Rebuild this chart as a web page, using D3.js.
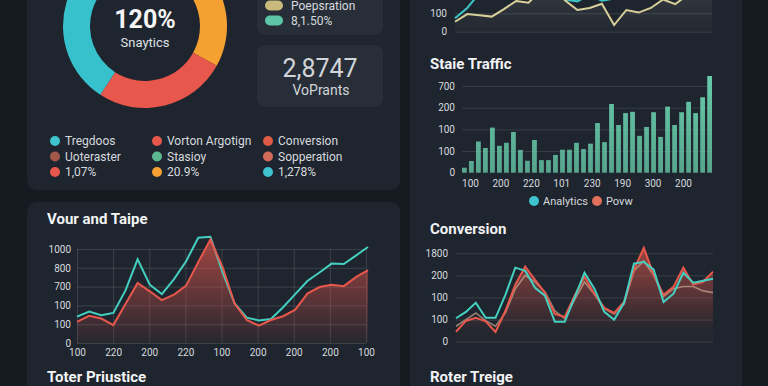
<!DOCTYPE html>
<html>
<head>
<meta charset="utf-8">
<script src="https://cdn.jsdelivr.net/npm/d3@7/dist/d3.min.js"></script>
<style>
  html, body { margin: 0; padding: 0; background: #161b22; overflow: hidden; }
  svg { display: block; font-family: Roboto, 'Noto Sans', sans-serif; }
</style>
</head>
<body>
<div id="chart"></div>
<script>
// ***************数据*******************
const donutValues = [119, 94, 147];

const legendNames = ['Tregdoos', 'Uoteraster', '1,07%', 'Vorton Argotign', 'Stasioy', '20.9%', 'Conversion', 'Sopperation', '1,278%'];

const topTicks = ['0', '100'];
const topKhaki = [54, 96, 90, 82, 123, 167, 158, 220, 240, 170, 118, 129, 152, 36, 118, 104, 129, 175, 150, 200, 230, 260];
const topTeal = [73, 129, 210, 255, 290, 300, 280, 250, 220, 175, 165, 200, 168, 180, 200, 240, 265, 285, 300, 290, 310, 320];

const barTicks = ['0', '100', '100', '200', '700'];
const barLabels = ['100', '200', '220', '101', '230', '190', '300', '200'];
const barValues = [23, 54, 144, 114, 208, 124, 138, 188, 105, 55, 151, 58, 58, 82, 106, 106, 138, 109,
  134, 229, 141, 317, 220, 275, 281, 170, 211, 279, 165, 305, 220, 279, 327, 275, 348, 446];
const barLegend = ['Analytics', 'Povw'];

const convTicks = ['0', '100', '100', '200', '1800'];
const convTeal = [106, 135, 176, 108, 108, 212, 335, 321, 244, 208, 90, 90, 199, 312, 240, 135, 99, 176, 353, 362, 326, 180, 217, 312, 267, 276, 285];
const convRed = [45, 94, 108, 92, 44, 140, 258, 340, 280, 221, 126, 112, 208, 294, 217, 153, 130, 180, 326, 425, 303, 212, 248, 335, 258, 271, 317];
const convPale = [70, 100, 130, 95, 70, 130, 240, 300, 270, 225, 140, 105, 190, 270, 215, 150, 125, 170, 320, 365, 300, 205, 240, 250, 250, 230, 222];

const lineTicks = ['0', '100', '100', '700', '800', '1000'];
const lineLabels = ['100', '220', '200', '220', '100', '200', '200', '200', '100'];
const lineTeal = [280, 335, 295, 320, 560, 890, 620, 521, 680, 870, 1120, 1130, 755, 420, 270, 240, 255, 380, 520, 660, 750, 845, 840, 930, 1021];
const lineRed = [225, 290, 260, 191, 415, 638, 550, 457, 515, 610, 860, 1100, 810, 420, 245, 185, 245, 285, 355, 525, 595, 620, 605, 700, 775];

// ***************样式*******************
const panelColor = '#1f252e';
const cardColor = '#282e38';
const textColor = '#d6dade';
const titleColor = '#f2f3f5';
const teal = '#44cfc0';
const red = '#e8574b';
const donutColors = ['#f5a131', '#e8574b', '#36c1cc'];
const legendColors = ['#3ec3cf', '#a3574a', '#e8574b', '#e8574b', '#5cb890', '#f5a131', '#e05a48', '#d06a5a', '#3ec3cf'];

const svg = d3.select('#chart').append('svg')
  .attr('width', 768)
  .attr('height', 386);

const defs = svg.append('defs');
function vGrad(id, color, o1, o2, y1, y2) {
  const g = defs.append('linearGradient')
    .attr('id', id)
    .attr('gradientUnits', 'userSpaceOnUse')
    .attr('x1', 0).attr('x2', 0).attr('y1', y1).attr('y2', y2);
  g.append('stop').attr('offset', 0).attr('stop-color', color).attr('stop-opacity', o1);
  g.append('stop').attr('offset', 1).attr('stop-color', color).attr('stop-opacity', o2);
}
vGrad('redFillL', red, 0.65, 0.04, 240, 343);
vGrad('redFillC', red, 0.6, 0.03, 250, 330);
vGrad('greyFill', '#c8c8be', 0.10, 0.02, 0, 32);
vGrad('barFill', '#66c9a8', 1, 0.78, 80, 173);

// *********************************** 面板 ***********************************
svg.append('rect').attr('x', 27).attr('y', -12).attr('width', 373).attr('height', 202).attr('rx', 10).attr('fill', panelColor);
svg.append('rect').attr('x', 27).attr('y', 202).attr('width', 373).attr('height', 200).attr('rx', 10).attr('fill', panelColor);
svg.append('rect').attr('x', 410).attr('y', -12).attr('width', 332).attr('height', 410).attr('rx', 10).attr('fill', panelColor);

// *********************************** 环形图 ***********************************
const pie = d3.pie().sort(null).startAngle(0).endAngle(2 * Math.PI);
const arc = d3.arc().innerRadius(55).outerRadius(82);
const donut = svg.append('g').attr('transform', 'translate(145,26)');
donut.selectAll('path')
  .data(pie(donutValues))
  .join('path')
  .attr('d', arc)
  .attr('fill', (d, i) => donutColors[i]);
donut.append('text')
  .attr('text-anchor', 'middle').attr('y', 2)
  .attr('font-size', '25px').attr('font-weight', 'bold').attr('fill', '#f5f5f5')
  .text('120%');
donut.append('text')
  .attr('text-anchor', 'middle').attr('y', 21)
  .attr('font-size', '13px').attr('fill', '#dfe2e6')
  .text('Snaytics');

// *********************************** 小卡片 ***********************************
svg.append('rect').attr('x', 257).attr('y', -20).attr('width', 126).attr('height', 55).attr('rx', 8).attr('fill', cardColor);
svg.append('rect').attr('x', 257).attr('y', 45).attr('width', 126).attr('height', 62).attr('rx', 8).attr('fill', cardColor);
svg.append('rect').attr('x', 265).attr('y', 0.5).attr('width', 18).attr('height', 10).attr('rx', 5).attr('fill', '#c9b97c');
svg.append('rect').attr('x', 265).attr('y', 15.5).attr('width', 18).attr('height', 10).attr('rx', 5).attr('fill', '#5cc6a6');
svg.append('text').attr('x', 291).attr('y', 10).attr('font-size', '12px').attr('fill', textColor).text('Poepsration');
svg.append('text').attr('x', 291).attr('y', 25).attr('font-size', '12px').attr('fill', textColor).text('8,1.50%');
svg.append('text').attr('x', 320).attr('y', 77).attr('text-anchor', 'middle')
  .attr('font-size', '25px').attr('fill', '#d2d6db').text('2,8747');
svg.append('text').attr('x', 321).attr('y', 95).attr('text-anchor', 'middle')
  .attr('font-size', '14px').attr('fill', '#d2d6db').text('VoPrants');

// *********************************** 图例 ***********************************
const colX = [55, 157, 268];
const rowY = [141, 156.5, 172];
const legend = svg.append('g').selectAll('g')
  .data(legendNames)
  .join('g')
  .attr('transform', (d, i) => `translate(${colX[Math.floor(i / 3)]},${rowY[i % 3]})`);
legend.append('circle').attr('r', 5).attr('fill', (d, i) => legendColors[i]);
legend.append('text').attr('x', 10).attr('dy', '0.35em')
  .attr('font-size', '12px').attr('fill', textColor).text(d => d);

// 坐标轴样式
function styleAxis(g) {
  g.select('.domain').remove();
  g.selectAll('text').attr('fill', textColor).attr('font-size', '10px').attr('font-family', 'Roboto, sans-serif');
  g.selectAll('line').remove();
}
function grid(g, color) {
  g.select('.domain').remove();
  g.selectAll('text').remove();
  g.selectAll('line').attr('stroke', color).attr('stroke-width', 1);
}

// *********************************** 右上折线 ***********************************
const tx = d3.scaleLinear().domain([0, topKhaki.length - 1]).range([455, 712]);
const ty = d3.scaleLinear().domain([0, 100]).range([31.7, 13.3]);
svg.append('g').attr('transform', 'translate(455,0)')
  .call(d3.axisLeft(ty).tickValues([0, 100]).tickSize(-257).tickFormat(''))
  .call(grid, 'rgba(255,255,255,0.12)');
svg.append('g').attr('transform', 'translate(455,0)')
  .call(d3.axisLeft(ty).tickValues([0, 100]).tickSize(0).tickPadding(8).tickFormat((d, i) => topTicks[i]))
  .call(styleAxis);
svg.append('path')
  .datum(topKhaki)
  .attr('d', d3.area().x((d, i) => tx(i)).y0(ty(0)).y1(d => ty(d)))
  .attr('fill', 'url(#greyFill)');
svg.append('path')
  .datum(topTeal)
  .attr('d', d3.line().x((d, i) => tx(i)).y(d => ty(d)))
  .attr('fill', 'none').attr('stroke', '#3cc6c8').attr('stroke-width', 2);
svg.append('path')
  .datum(topKhaki)
  .attr('d', d3.line().x((d, i) => tx(i)).y(d => ty(d)))
  .attr('fill', 'none').attr('stroke', '#d8d09a').attr('stroke-width', 2);

// *********************************** 柱状图 ***********************************
svg.append('text').attr('x', 430).attr('y', 69)
  .attr('font-size', '15px').attr('font-weight', 'bold').attr('fill', titleColor).text('Staie Traffic');
const bx = d3.scaleBand().domain(d3.range(barValues.length)).range([462, 712]).paddingInner(0.32).paddingOuter(0);
const by = d3.scaleLinear().domain([0, 400]).range([172.7, 86]);
svg.append('g').attr('transform', 'translate(462,0)')
  .call(d3.axisLeft(by).tickValues([100, 200, 300, 400]).tickSize(-250).tickFormat(''))
  .call(grid, 'rgba(255,255,255,0.11)');
svg.append('g').attr('transform', 'translate(462,0)')
  .call(d3.axisLeft(by).tickValues([0, 100, 200, 300, 400]).tickSize(0).tickPadding(7).tickFormat((d, i) => barTicks[i]))
  .call(styleAxis);
svg.append('g').selectAll('rect')
  .data(barValues)
  .join('rect')
  .attr('x', (d, i) => bx(i))
  .attr('y', d => by(d))
  .attr('width', bx.bandwidth())
  .attr('height', d => by(0) - by(d))
  .attr('fill', 'url(#barFill)');
const blx = d3.scalePoint().domain(d3.range(barLabels.length)).range([470, 683]);
svg.append('g').attr('transform', 'translate(0,172.7)')
  .call(d3.axisBottom(blx).tickSize(0).tickPadding(7).tickFormat(i => barLabels[i]))
  .call(styleAxis);
const legX = [534, 597];
const legColors = ['#3ec3cf', '#e0705a'];
const bl = svg.append('g').selectAll('g')
  .data(barLegend)
  .join('g')
  .attr('transform', (d, i) => `translate(${legX[i]},201)`);
bl.append('circle').attr('r', 5).attr('fill', (d, i) => legColors[i]);
bl.append('text').attr('x', 9).attr('dy', '0.35em').attr('font-size', '11px').attr('fill', textColor).text(d => d);

// *********************************** Conversion ***********************************
svg.append('text').attr('x', 430).attr('y', 234)
  .attr('font-size', '15px').attr('font-weight', 'bold').attr('fill', titleColor).text('Conversion');
const cx = d3.scaleLinear().domain([0, convTeal.length - 1]).range([456, 713]);
const cy = d3.scaleLinear().domain([0, 400]).range([341.7, 253.3]);
svg.append('g').attr('transform', 'translate(456,0)')
  .call(d3.axisLeft(cy).tickValues([0, 100, 200, 300, 400]).tickSize(-257).tickFormat(''))
  .call(grid, 'rgba(255,255,255,0.12)');
svg.append('g').attr('transform', 'translate(456,0)')
  .call(d3.axisLeft(cy).tickValues([0, 100, 200, 300, 400]).tickSize(0).tickPadding(8).tickFormat((d, i) => convTicks[i]))
  .call(styleAxis);
svg.append('path')
  .datum(convRed)
  .attr('d', d3.area().x((d, i) => cx(i)).y0(cy(0)).y1(d => cy(d)))
  .attr('fill', 'url(#redFillC)');
svg.append('path')
  .datum(convPale)
  .attr('d', d3.line().x((d, i) => cx(i)).y(d => cy(d)))
  .attr('fill', 'none').attr('stroke', '#c9a890').attr('stroke-opacity', 0.7).attr('stroke-width', 1.6);
svg.append('path')
  .datum(convRed)
  .attr('d', d3.line().x((d, i) => cx(i)).y(d => cy(d)))
  .attr('fill', 'none').attr('stroke', red).attr('stroke-width', 2);
svg.append('path')
  .datum(convTeal)
  .attr('d', d3.line().x((d, i) => cx(i)).y(d => cy(d)))
  .attr('fill', 'none').attr('stroke', teal).attr('stroke-width', 2);

// *********************************** 左下折线 ***********************************
svg.append('text').attr('x', 47).attr('y', 224)
  .attr('font-size', '15px').attr('font-weight', 'bold').attr('fill', titleColor).text('Vour and Taipe');
const lx = d3.scaleLinear().domain([0, lineTeal.length - 1]).range([77, 368]);
const ly = d3.scaleLinear().domain([0, 1000]).range([343, 249]);
const lxl = d3.scalePoint().domain(d3.range(lineLabels.length)).range([77, 366]);
svg.append('g').attr('transform', 'translate(77,0)')
  .call(d3.axisLeft(ly).tickValues([0, 200, 400, 600, 800, 1000]).tickSize(-289).tickFormat(''))
  .call(grid, 'rgba(255,255,255,0.13)');
svg.append('g').attr('transform', 'translate(0,343)')
  .call(d3.axisBottom(lxl).tickSize(-94).tickFormat(''))
  .call(grid, 'rgba(255,255,255,0.13)');
svg.append('g').attr('transform', 'translate(77,0)')
  .call(d3.axisLeft(ly).tickValues([0, 200, 400, 600, 800, 1000]).tickSize(0).tickPadding(6).tickFormat((d, i) => lineTicks[i]))
  .call(styleAxis);
svg.append('g').attr('transform', 'translate(0,343)')
  .call(d3.axisBottom(lxl).tickSize(0).tickPadding(6).tickFormat(i => lineLabels[i]))
  .call(styleAxis);
svg.append('path')
  .datum(lineRed)
  .attr('d', d3.area().x((d, i) => lx(i)).y0(ly(0)).y1(d => ly(d)))
  .attr('fill', 'url(#redFillL)');
svg.append('path')
  .datum(lineTeal)
  .attr('d', d3.line().x((d, i) => lx(i)).y(d => ly(d)))
  .attr('fill', 'none').attr('stroke', teal).attr('stroke-width', 2);
svg.append('path')
  .datum(lineRed)
  .attr('d', d3.line().x((d, i) => lx(i)).y(d => ly(d)))
  .attr('fill', 'none').attr('stroke', red).attr('stroke-width', 2);

// *********************************** 底部标题 ***********************************
svg.append('text').attr('x', 47).attr('y', 382)
  .attr('font-size', '15px').attr('font-weight', 'bold').attr('fill', titleColor).text('Toter Priustice');
svg.append('text').attr('x', 430).attr('y', 382)
  .attr('font-size', '15px').attr('font-weight', 'bold').attr('fill', titleColor).text('Roter Treige');
</script>
</body>
</html>
